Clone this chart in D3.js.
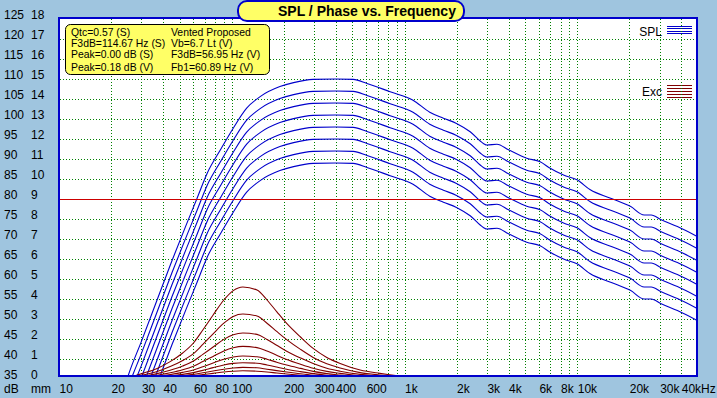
<!DOCTYPE html>
<html>
<head>
<meta charset="utf-8">
<script src="https://cdn.jsdelivr.net/npm/d3@7"></script>
<style>
  body { margin: 0; background: #9fc5df; }
  svg { display: block; }
</style>
</head>
<body>
<div id="chart"></div>
<script>
// SPL curves, 8 drive levels (dB)
const freqSpl = [24, 25, 30, 37, 45, 54, 63, 72, 86, 102, 122, 146, 190, 228, 296, 400, 505, 606, 826, 1120, 1400, 1680, 2000, 2400, 2860, 3000, 3430, 4000, 5100, 6100, 6970, 8330, 9970, 11900, 15600, 20400, 24400, 26800, 30600, 38000, 49600];
const spl1 = [33, 35.5, 44.4, 54.8, 64.5, 73.1, 80.2, 86.4, 92.3, 97.7, 102.7, 105.6, 108.1, 109.1, 109.9, 110, 109.9, 108.9, 106.8, 104.7, 101.7, 100.2, 98.9, 96.8, 93.9, 93.5, 93.7, 92.3, 90.2, 89.3, 87.7, 86, 84.8, 82.3, 80.2, 78.1, 76, 76, 74.8, 73.1, 70.6];
const spl2 = [30, 32.5, 41.4, 51.8, 61.5, 70.1, 77.2, 83.4, 89.3, 94.7, 99.7, 102.6, 105.1, 106.1, 106.9, 107, 106.9, 105.9, 103.8, 101.7, 98.7, 97.2, 95.9, 93.8, 90.9, 90.5, 90.7, 89.3, 87.2, 86.3, 84.7, 83, 81.8, 79.3, 77.2, 75.1, 73, 73, 71.8, 70.1, 67.6];
const spl3 = [27, 29.5, 38.4, 48.8, 58.5, 67.1, 74.2, 80.4, 86.3, 91.7, 96.7, 99.6, 102.1, 103.1, 103.9, 104, 103.9, 102.9, 100.8, 98.7, 95.7, 94.2, 92.9, 90.8, 87.9, 87.5, 87.7, 86.3, 84.2, 83.3, 81.7, 80, 78.8, 76.3, 74.2, 72.1, 70, 70, 68.8, 67.1, 64.6];
const spl4 = [24, 26.5, 35.4, 45.8, 55.5, 64.1, 71.2, 77.4, 83.3, 88.7, 93.7, 96.6, 99.1, 100.1, 100.9, 101, 100.9, 99.9, 97.8, 95.7, 92.7, 91.2, 89.9, 87.8, 84.9, 84.5, 84.7, 83.3, 81.2, 80.3, 78.7, 77, 75.8, 73.3, 71.2, 69.1, 67, 67, 65.8, 64.1, 61.6];
const spl5 = [21, 23.5, 32.4, 42.8, 52.5, 61.1, 68.2, 74.4, 80.3, 85.7, 90.7, 93.6, 96.1, 97.1, 97.9, 98, 97.9, 96.9, 94.8, 92.7, 89.7, 88.2, 86.9, 84.8, 81.9, 81.5, 81.7, 80.3, 78.2, 77.3, 75.7, 74, 72.8, 70.3, 68.2, 66.1, 64, 64, 62.8, 61.1, 58.6];
const spl6 = [18, 20.5, 29.4, 39.8, 49.5, 58.1, 65.2, 71.4, 77.3, 82.7, 87.7, 90.6, 93.1, 94.1, 94.9, 95, 94.9, 93.9, 91.8, 89.7, 86.7, 85.2, 83.9, 81.8, 78.9, 78.5, 78.7, 77.3, 75.2, 74.3, 72.7, 71, 69.8, 67.3, 65.2, 63.1, 61, 61, 59.8, 58.1, 55.6];
const spl7 = [15, 17.5, 26.4, 36.8, 46.5, 55.1, 62.2, 68.4, 74.3, 79.7, 84.7, 87.6, 90.1, 91.1, 91.9, 92, 91.9, 90.9, 88.8, 86.7, 83.7, 82.2, 80.9, 78.8, 75.9, 75.5, 75.7, 74.3, 72.2, 71.3, 69.7, 68, 66.8, 64.3, 62.2, 60.1, 58, 58, 56.8, 55.1, 52.6];
const spl8 = [12, 14.5, 23.4, 33.8, 43.5, 52.1, 59.2, 65.4, 71.3, 76.7, 81.7, 84.6, 87.1, 88.1, 88.9, 89, 88.9, 87.9, 85.8, 83.7, 80.7, 79.2, 77.9, 75.8, 72.9, 72.5, 72.7, 71.3, 69.2, 68.3, 66.7, 65, 63.8, 61.3, 59.2, 57.1, 55, 55, 53.8, 52.1, 49.6];

// cone excursion curves (mm)
const freqExc = [26, 31, 37, 44, 52, 60, 68, 78, 90, 102, 116, 140, 160, 182, 208, 250, 296, 355, 424, 554, 720, 940, 1080];
const exc1 = [0.1, 0.3, 0.53, 0.87, 1.3, 1.8, 2.45, 3.2, 3.95, 4.42, 4.6, 4.45, 3.95, 3.37, 2.78, 2.1, 1.53, 1.08, 0.78, 0.45, 0.28, 0.15, 0.1];
const exc2 = [0.07, 0.21, 0.37, 0.62, 0.92, 1.27, 1.73, 2.26, 2.79, 3.13, 3.25, 3.15, 2.79, 2.38, 1.97, 1.48, 1.08, 0.76, 0.55, 0.32, 0.2, 0.11, 0.07];
const exc3 = [0.05, 0.15, 0.27, 0.44, 0.65, 0.9, 1.23, 1.6, 1.98, 2.21, 2.3, 2.23, 1.98, 1.69, 1.39, 1.05, 0.77, 0.54, 0.39, 0.23, 0.14, 0.08, 0.05];
const exc4 = [0.04, 0.11, 0.19, 0.31, 0.46, 0.64, 0.87, 1.13, 1.4, 1.56, 1.63, 1.57, 1.4, 1.19, 0.98, 0.74, 0.54, 0.38, 0.28, 0.16, 0.1, 0.05, 0.04];
const exc5 = [0.03, 0.08, 0.13, 0.22, 0.33, 0.45, 0.61, 0.8, 0.99, 1.1, 1.15, 1.11, 0.99, 0.84, 0.7, 0.53, 0.38, 0.27, 0.2, 0.11, 0.07, 0.04, 0.03];
const exc6 = [0.02, 0.05, 0.09, 0.15, 0.23, 0.32, 0.43, 0.57, 0.7, 0.78, 0.81, 0.79, 0.7, 0.6, 0.49, 0.37, 0.27, 0.19, 0.14, 0.08, 0.05, 0.03, 0.02];
const exc7 = [0.01, 0.04, 0.07, 0.11, 0.16, 0.23, 0.31, 0.4, 0.49, 0.55, 0.58, 0.56, 0.49, 0.42, 0.35, 0.26, 0.19, 0.14, 0.1, 0.06, 0.04, 0.02, 0.01];
const exc8 = [0.01, 0.03, 0.05, 0.08, 0.11, 0.16, 0.22, 0.28, 0.35, 0.39, 0.41, 0.39, 0.35, 0.3, 0.25, 0.19, 0.14, 0.1, 0.07, 0.04, 0.02, 0.01, 0.01];

const dbTicks = [35, 40, 45, 50, 55, 60, 65, 70, 75, 80, 85, 90, 95, 100, 105, 110, 115, 120, 125];
const mmTicks = [0, 1, 2, 3, 4, 5, 6, 7, 8, 9, 10, 11, 12, 13, 14, 15, 16, 17, 18];
const xTickVals = [10, 20, 30, 40, 60, 80, 100, 200, 300, 400, 600, 1000, 2000, 3000, 4000, 6000, 8000, 10000, 20000, 30000, 40000];
const xTickLabels = ["10", "20", "30", "40", "60", "80", "100", "200", "300", "400", "600", "1k", "2k", "3k", "4k", "6k", "8k", "10k", "20k", "30k", "40kHz"];

const infoLeft = ["Qtc=0.57 (S)", "F3dB=114.67 Hz (S)", "Peak=0.00 dB (S)", "Peak=0.18 dB (V)"];
const infoRight = ["Vented Proposed", "Vb=6.7 Lt (V)", "F3dB=56.95 Hz (V)", "Fb1=60.89 Hz (V)"];

const width = 717, height = 398;
const font = "'Liberation Sans', Arial, sans-serif";

const svg = d3.select("#chart")
  .append("svg")
  .attr("width", width)
  .attr("height", height);

svg.append("rect")
  .attr("width", width)
  .attr("height", height)
  .attr("fill", "#9fc5df");

const x = d3.scaleLog().domain([10, 50000]).range([59, 698]);
const y = d3.scaleLinear().domain([35, 125]).range([379, 19]);
const yMm = d3.scaleLinear().domain([0, 18]).range([379, 19]);

// plot background
svg.append("rect")
  .attr("x", 59).attr("y", 18)
  .attr("width", 638).attr("height", 358)
  .attr("fill", "white");

svg.append("clipPath").attr("id", "clip")
  .append("rect")
  .attr("x", 60).attr("y", 19)
  .attr("width", 636).attr("height", 356);

// legend swatches
svg.append("text")
  .attr("x", 662).attr("y", 35.5)
  .attr("text-anchor", "end")
  .attr("font-family", font).attr("font-size", 12)
  .text("SPL");
svg.append("g").selectAll("line")
  .data([26, 28, 31, 33])
  .join("line")
  .attr("x1", 667).attr("x2", 692)
  .attr("y1", d => d + 0.5).attr("y2", d => d + 0.5)
  .attr("stroke", "#0000cc");

svg.append("text")
  .attr("x", 662).attr("y", 96)
  .attr("text-anchor", "end")
  .attr("font-family", font).attr("font-size", 12)
  .text("Exc");
svg.append("g").selectAll("line")
  .data([85, 88, 91, 94, 97])
  .join("line")
  .attr("x1", 667).attr("x2", 692)
  .attr("y1", d => d + 0.5).attr("y2", d => d + 0.5)
  .attr("stroke", "#800000");

// grid
const gridX = x.ticks().filter(d => d > 10 && d < 50000);
svg.append("g").selectAll("line")
  .data(gridX)
  .join("line")
  .attr("x1", d => Math.round(x(d)) + 0.5)
  .attr("x2", d => Math.round(x(d)) + 0.5)
  .attr("y1", 19).attr("y2", 375)
  .attr("stroke", "#008000")
  .attr("stroke-dasharray", "1,2");

svg.append("g").selectAll("line")
  .data(dbTicks.filter(d => d > 35 && d < 125 && d !== 80))
  .join("line")
  .attr("x1", 60).attr("x2", 696)
  .attr("y1", d => Math.round(y(d)) + 0.5)
  .attr("y2", d => Math.round(y(d)) + 0.5)
  .attr("stroke", "#008000")
  .attr("stroke-dasharray", "1,2");

// curves
const lineGen = d3.line()
  .x(d => x(d[0]))
  .y(d => y(d[1]))
  .curve(d3.curveMonotoneX);

const excGen = d3.line()
  .x(d => x(d[0]))
  .y(d => yMm(d[1]))
  .curve(d3.curveMonotoneX);

const curves = svg.append("g").attr("clip-path", "url(#clip)");

[spl1, spl2, spl3, spl4, spl5, spl6, spl7, spl8].forEach(s => {
  curves.append("path")
    .datum(d3.zip(freqSpl, s))
    .attr("fill", "none")
    .attr("stroke", "#0000cc")
    .attr("stroke-width", 1.1)
    .attr("d", lineGen);
});

[exc1, exc2, exc3, exc4, exc5, exc6, exc7, exc8].forEach(s => {
  curves.append("path")
    .datum(d3.zip(freqExc, s))
    .attr("fill", "none")
    .attr("stroke", "#800000")
    .attr("stroke-width", 1.1)
    .attr("d", excGen);
});

svg.append("line")
  .attr("x1", 60).attr("x2", 696)
  .attr("y1", Math.round(y(80)) + 0.5).attr("y2", Math.round(y(80)) + 0.5)
  .attr("stroke", "#cc0000");

// frame
svg.append("rect")
  .attr("x", 59).attr("y", 18)
  .attr("width", 638).attr("height", 358)
  .attr("fill", "none")
  .attr("stroke", "#0000cc")
  .attr("stroke-width", 2);

// axes
const xAxis = svg.append("g")
  .attr("transform", "translate(0,384.5)")
  .call(d3.axisBottom(x).tickValues(xTickVals).tickFormat((d, i) => xTickLabels[i]).tickSize(0).tickPadding(0));
xAxis.select(".domain").remove();
xAxis.selectAll("text")
  .attr("text-anchor", "start")
  .attr("fill", "black")
  .attr("font-family", font).attr("font-size", 12);

const dbAxis = svg.append("g")
  .attr("transform", "translate(4,-4)")
  .call(d3.axisRight(y).tickValues(dbTicks).tickSize(0).tickPadding(0));
dbAxis.select(".domain").remove();
dbAxis.selectAll("text").attr("fill", "black").attr("font-family", font).attr("font-size", 12);

const mmAxis = svg.append("g")
  .attr("transform", "translate(31,-4)")
  .call(d3.axisRight(yMm).tickValues(mmTicks).tickSize(0).tickPadding(0));
mmAxis.select(".domain").remove();
mmAxis.selectAll("text").attr("fill", "black").attr("font-family", font).attr("font-size", 12);

svg.append("text").attr("x", 4).attr("y", 393)
  .attr("font-family", font).attr("font-size", 12).text("dB");
svg.append("text").attr("x", 31).attr("y", 393)
  .attr("font-family", font).attr("font-size", 12).text("mm");

// title
svg.append("rect")
  .attr("x", 238).attr("y", 1)
  .attr("width", 226).attr("height", 20)
  .attr("rx", 9)
  .attr("fill", "#ffff66")
  .attr("stroke", "#0000cc")
  .attr("stroke-width", 2);
svg.append("text")
  .attr("x", 278).attr("y", 16)
  .attr("font-family", font).attr("font-size", 14).attr("font-weight", "bold")
  .text("SPL / Phase vs. Frequency");

// info box
svg.append("rect")
  .attr("x", 65.5).attr("y", 24.5)
  .attr("width", 204).attr("height", 50)
  .attr("rx", 5)
  .attr("fill", "#ffff66")
  .attr("stroke", "black");

const infoY = [36, 47, 58, 71];
svg.append("g").selectAll("text")
  .data(infoLeft)
  .join("text")
  .attr("x", 71).attr("y", (d, i) => infoY[i])
  .attr("font-family", font).attr("font-size", 10.4)
  .text(d => d);
svg.append("g").selectAll("text")
  .data(infoRight)
  .join("text")
  .attr("x", 171).attr("y", (d, i) => infoY[i])
  .attr("font-family", font).attr("font-size", 10.4)
  .text(d => d);
</script>
</body>
</html>
